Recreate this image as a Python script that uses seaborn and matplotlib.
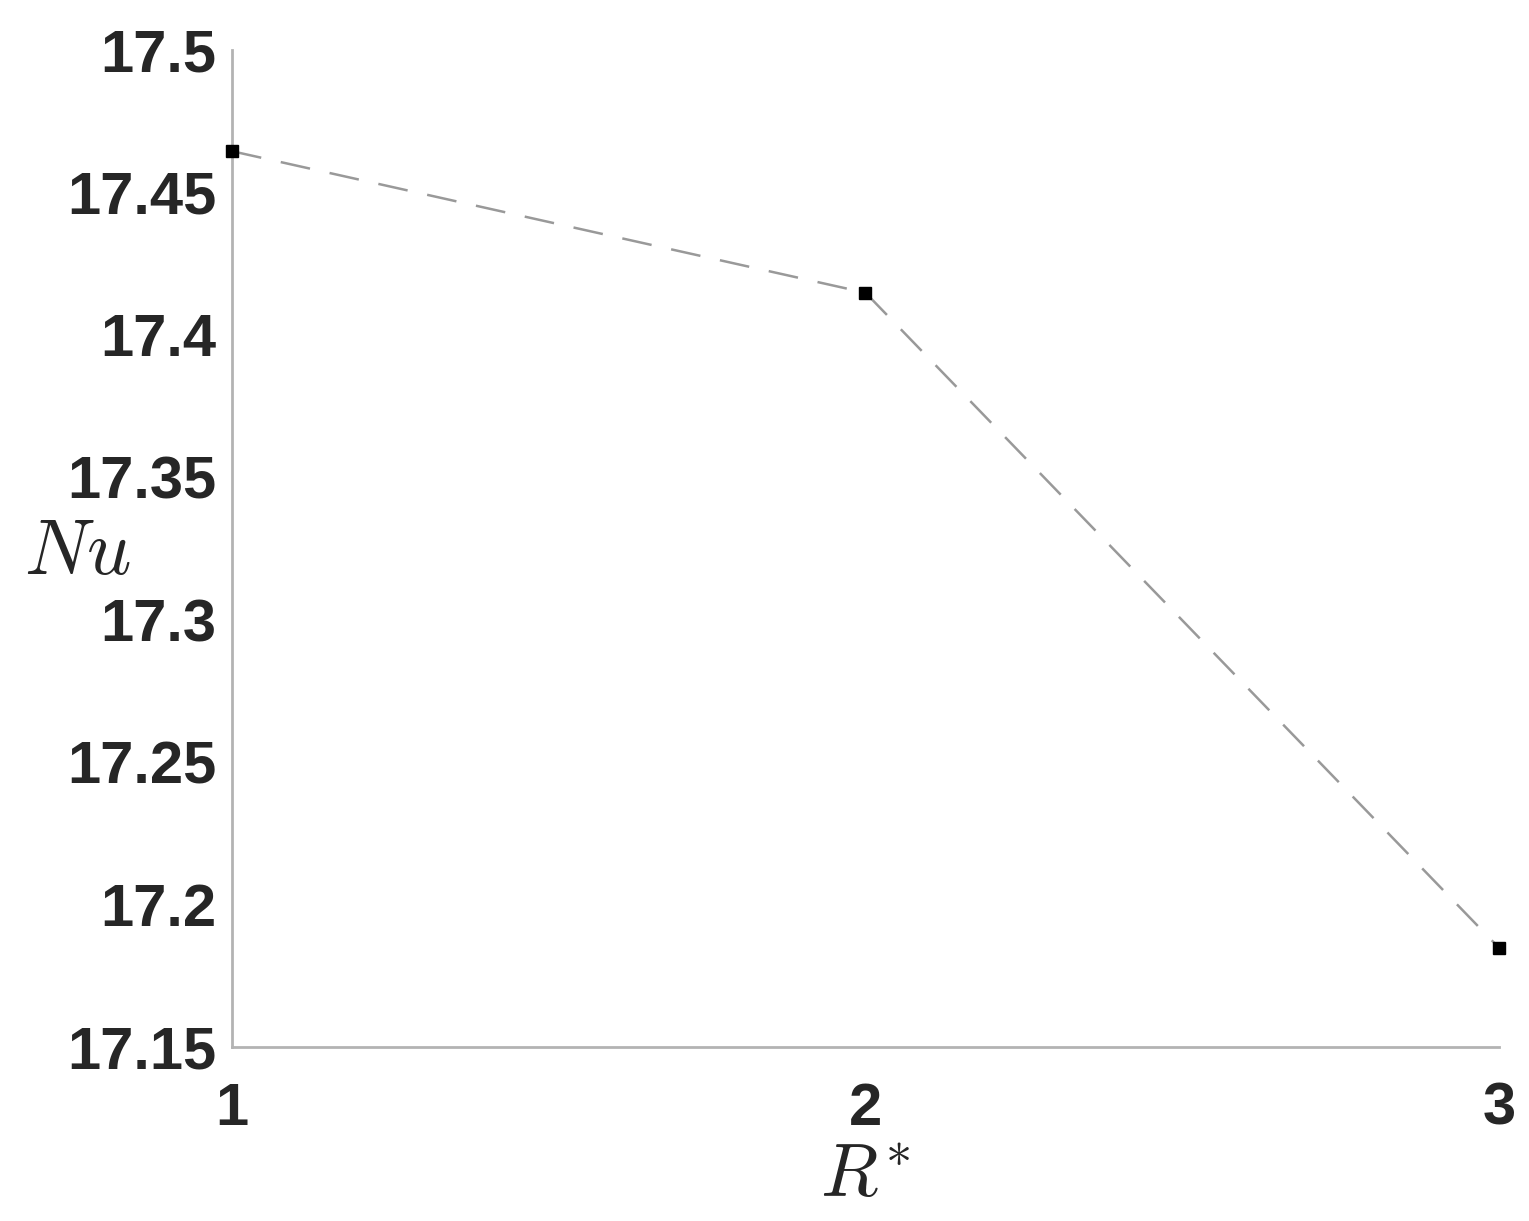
import matplotlib
matplotlib.use("Agg")
import matplotlib.pyplot as plt
import seaborn as sns
import pandas as pd

r_star = [1, 2, 3]
nu_values = [17.4645, 17.4148, 17.1848]
x_ticks = [1, 2, 3]
y_ticks = [17.15, 17.2, 17.25, 17.3, 17.35, 17.4, 17.45, 17.5]
y_tick_labels = ["17.15", "17.2", "17.25", "17.3", "17.35", "17.4", "17.45", "17.5"]

sns.set_theme(style="white")
plt.rcParams['font.family'] = ['Liberation Sans', 'DejaVu Sans']
plt.rcParams['mathtext.fontset'] = 'cm'

df = pd.DataFrame({"R": r_star, "Nu": nu_values})

fig = plt.figure(figsize=(15.29, 12.21), dpi=100)
ax = fig.add_axes([0.1517, 0.1425, 0.8287, 0.8165])

sns.lineplot(data=df, x="R", y="Nu", ax=ax, color="#999999", linewidth=1.8,
             linestyle=(0, (12, 8)), marker=None)
ax.plot(df["R"], df["Nu"], linestyle="none", marker="s", markersize=8,
        color="black", markeredgecolor="black", zorder=5, clip_on=False)

ax.set_xlim(1, 3)
ax.set_ylim(17.15, 17.5)
ax.set_xticks(x_ticks)
ax.set_xticklabels([str(v) for v in x_ticks])
ax.set_yticks(y_ticks)
ax.set_yticklabels(y_tick_labels)

for s in ["top", "right"]:
    ax.spines[s].set_visible(False)
for s in ["left", "bottom"]:
    ax.spines[s].set_color("#b3b3b3")
    ax.spines[s].set_linewidth(2)

ax.tick_params(axis="both", direction="in", length=7, width=2, color="#b3b3b3",
               labelsize=43, labelcolor="#262626")
ax.tick_params(axis="x", pad=25)
ax.tick_params(axis="y", pad=11)
for lbl in ax.get_xticklabels() + ax.get_yticklabels():
    lbl.set_fontweight("bold")

ax.set_xlabel(r"$R^{*}$", fontsize=54, color="#262626")
ax.xaxis.set_label_coords(0.5, -0.095)
ax.set_ylabel(r"$Nu$", fontsize=56, color="#262626", rotation=0,
              ha="right", va="center")
ax.yaxis.set_label_coords(-0.08, 0.495)

fig.savefig("out.png", dpi=100, facecolor="white")
